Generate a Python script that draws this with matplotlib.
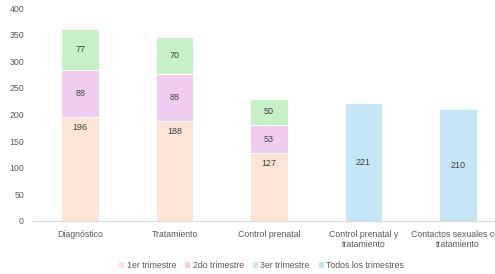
import matplotlib
matplotlib.use("Agg")
import matplotlib.pyplot as plt
import numpy as np

categories = ["Diagnóstico", "Tratamiento", "Control prenatal",
              "Control prenatal y\ntratamiento", "Contactos sexuales con\ntratamiento"]
t1 = [196, 188, 127, 0, 0]
t2 = [88, 88, 53, 0, 0]
t3 = [77, 70, 50, 0, 0]
todos = [0, 0, 0, 221, 210]
series_names = ["1er trimestre", "2do trimestre", "3er trimestre", "Todos los trimestres"]
colors = ["#FCE4D6", "#F0CDEE", "#C6F0C8", "#C4E5F4"]

plt.rcParams['font.family'] = ['Liberation Sans', 'DejaVu Sans']

fig = plt.figure(figsize=(4.95, 2.74), dpi=100)
ax = fig.add_axes([33/495, 1 - 221/274, 472/495, (221 - 8)/274])

x = np.arange(len(categories))
w = 0.40
bottom = np.zeros(len(categories))
for si, (vals, name, col) in enumerate(zip([t1, t2, t3, todos], series_names, colors)):
    v = np.array(vals, dtype=float)
    ax.bar(x, v, w, bottom=bottom, color=col, label=name, edgecolor='white', linewidth=0.6)
    for xi, b, vi in zip(x, bottom, v):
        if vi <= 0:
            continue
        if si == 0:
            ax.annotate(f"{int(vi)}", xy=(xi, b + vi), xytext=(0, -7.5),
                        textcoords='offset points', ha='center', va='center',
                        fontsize=6.5, color='#404040')
        else:
            ax.text(xi, b + vi / 2, f"{int(vi)}", ha='center', va='center',
                    fontsize=6.5, color='#404040')
    bottom += v

ax.set_xlim(-0.5, len(categories) - 0.5)
ax.set_ylim(0, 400)
ax.set_yticks(np.arange(0, 401, 50))
ax.set_xticks(x)
ax.set_xticklabels(categories, fontsize=6.3, color='#595959')
ax.tick_params(axis='y', labelsize=6.3, colors='#595959', length=0, pad=6.5)
ax.tick_params(axis='x', length=0, pad=6.5)
for s in ['top', 'right', 'left']:
    ax.spines[s].set_visible(False)
ax.spines['bottom'].set_color('#D9D9D9')
ax.spines['bottom'].set_linewidth(0.8)

fig.legend(loc='center', bbox_to_anchor=(261/495, 1 - 265/274), ncol=4, frameon=False,
           fontsize=6.3, handlelength=0.7, handleheight=0.7, handletextpad=0.3,
           columnspacing=0.9, labelcolor='#595959')

fig.savefig("out.png", dpi=100)
